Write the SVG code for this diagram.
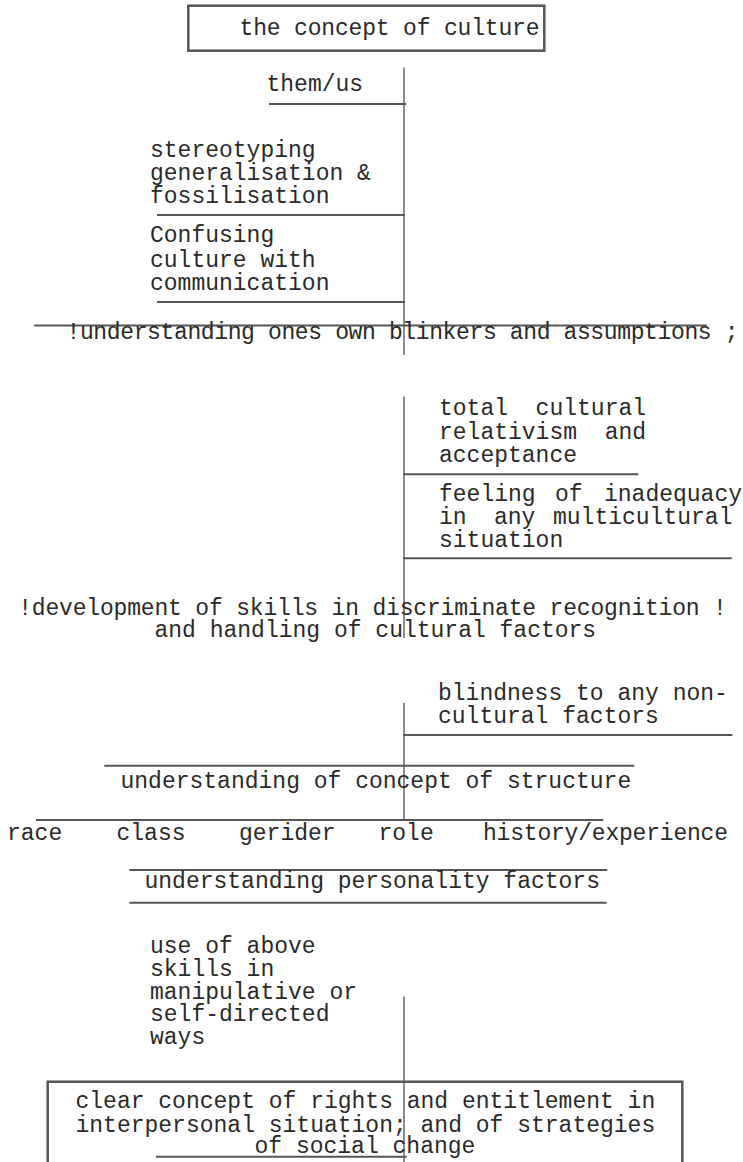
<svg xmlns="http://www.w3.org/2000/svg" width="743" height="1162" viewBox="0 0 743 1162">
<style>
text{font-family:"Liberation Mono","DejaVu Sans Mono",monospace;font-size:23px;fill:#2a2a2a;white-space:pre}
.rule{stroke:#555;stroke-width:2;fill:none}
.box{stroke:#555;stroke-width:2.5;fill:none}
.conn{stroke:#666;stroke-width:1.5;fill:none}
</style>
<rect width="743" height="1162" fill="#fff"/>
<g id="connectors">
<line class="conn" x1="404" y1="67.5" x2="404" y2="355"/>
<line class="conn" x1="404" y1="396.5" x2="404" y2="638"/>
<line class="conn" x1="404" y1="703" x2="404" y2="820"/>
<line class="conn" x1="404" y1="996.5" x2="404" y2="1162"/>
</g>
<g id="concept-of-culture">
<rect class="box" x="188.3" y="5.7" width="356" height="45"/>
<text x="239.5" y="35" textLength="300" lengthAdjust="spacing">the concept of culture</text>
</g>
<g id="them-us">
<text x="266.5" y="91">them/us</text>
<line class="rule" x1="269" y1="104" x2="406" y2="104"/>
</g>
<g id="stereotyping">
<text x="150" y="156.7">stereotyping</text>
<text x="150" y="180">generalisation &amp;</text>
<text x="150" y="203.3">fossilisation</text>
<line class="rule" x1="157" y1="215" x2="405" y2="215"/>
</g>
<g id="confusing">
<text x="150" y="242.3">Confusing</text>
<text x="150" y="266.5">culture with</text>
<text x="150" y="290">communication</text>
<line class="rule" x1="157" y1="302" x2="405" y2="302"/>
</g>
<g id="own-blinkers">
<line class="rule" x1="34.3" y1="325.5" x2="706.7" y2="325.5"/>
<text x="66.5" y="339" textLength="672" lengthAdjust="spacing">!understanding ones own blinkers and assumptions ;</text>
</g>
<g id="relativism">
<text x="439" y="415">total  cultural</text>
<text x="439" y="439.3">relativism  and</text>
<text x="439" y="462.3">acceptance</text>
<line class="rule" x1="403" y1="474.3" x2="638.3" y2="474.3"/>
</g>
<g id="inadequacy">
<text y="500.7"><tspan x="439">feeling</tspan><tspan x="555">of</tspan><tspan x="604">inadequacy</tspan></text>
<text y="524"><tspan x="439">in</tspan><tspan x="494">any</tspan><tspan x="553">multicultural</tspan></text>
<text x="439" y="546.7">situation</text>
<line class="rule" x1="403" y1="558.3" x2="731.7" y2="558.3"/>
</g>
<g id="discriminate-recognition">
<text x="18.2" y="615" textLength="708.7" lengthAdjust="spacing">!development of skills in discriminate recognition !</text>
<text x="154.5" y="636.5">and handling of cultural factors</text>
</g>
<g id="blindness">
<text x="438" y="700">blindness to any non-</text>
<text x="438" y="723.3">cultural factors</text>
<line class="rule" x1="403" y1="735" x2="732.3" y2="735"/>
</g>
<g id="concept-of-structure">
<line class="rule" x1="104.3" y1="765.7" x2="634.3" y2="765.7"/>
<text x="120.5" y="788.3">understanding of concept of structure</text>
<line class="rule" x1="36" y1="820" x2="603.3" y2="820"/>
</g>
<g id="structure-factors">
<text x="7" y="840">race</text>
<text x="116.5" y="840">class</text>
<text x="239" y="840">gerider</text>
<text x="378.5" y="840">role</text>
<text x="483" y="840" textLength="245" lengthAdjust="spacing">history/experience</text>
</g>
<g id="personality-factors">
<line class="rule" x1="129.3" y1="870" x2="607.3" y2="870"/>
<text x="144.5" y="888.3">understanding personality factors</text>
<line class="rule" x1="129.3" y1="902.7" x2="606.7" y2="902.7"/>
</g>
<g id="manipulative-use">
<text x="150" y="952.7">use of above</text>
<text x="150" y="976">skills in</text>
<text x="150" y="998.7">manipulative or</text>
<text x="150" y="1021.3">self-directed</text>
<text x="150" y="1044">ways</text>
</g>
<g id="rights-and-entitlement">
<rect class="box" x="47.7" y="1081.7" width="634.6" height="100"/>
<text x="75.5" y="1108.3">clear concept of rights and entitlement in</text>
<text x="75.5" y="1131.7">interpersonal situation; and of strategies</text>
<text x="254.5" y="1153.3">of social change</text>
<line class="rule" x1="156" y1="1156.7" x2="406.7" y2="1156.7"/>
</g>
</svg>
